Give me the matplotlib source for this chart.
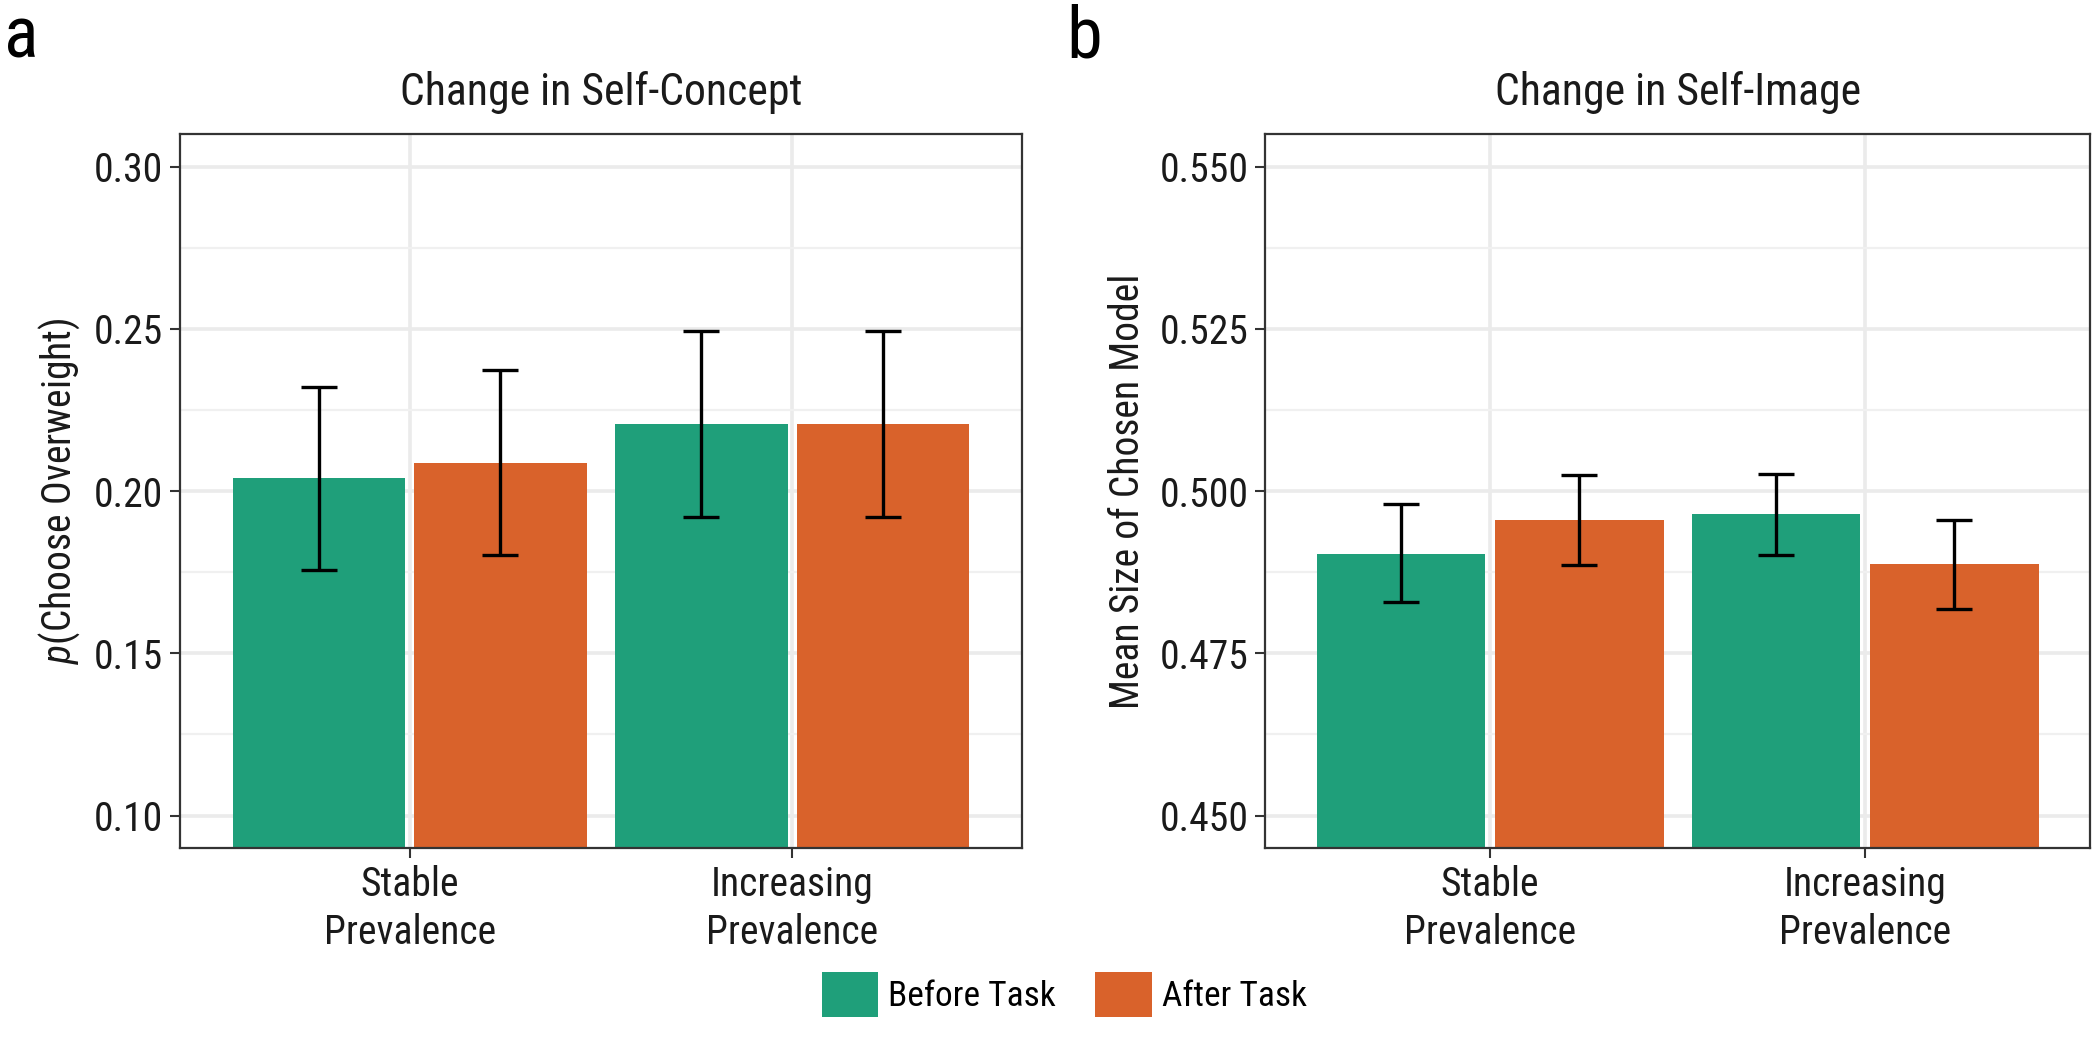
import numpy as np
import matplotlib
matplotlib.use("Agg")
import matplotlib.pyplot as plt
from matplotlib.patches import Patch
from matplotlib import font_manager

# pick a narrow font if one is installed
names = {f.name for f in font_manager.fontManager.ttflist}
FONT = 'DejaVu Sans'
for cand in ['Roboto Condensed', 'Archivo Narrow', 'Fira Sans Condensed', 'Asap Condensed']:
    if cand in names:
        FONT = cand
        break
plt.rcParams['font.family'] = [FONT, 'DejaVu Sans']
plt.rcParams['mathtext.fontset'] = 'custom'
plt.rcParams['mathtext.rm'] = FONT
plt.rcParams['mathtext.it'] = FONT + ':italic'

categories = ['Stable\nPrevalence', 'Increasing\nPrevalence']
groups = ['Before Task', 'After Task']
colors = ['#1f9f7a', '#d9622b']

# panel a: p(choose overweight)
concept_mean = {'Before Task': [0.2039, 0.2206], 'After Task': [0.2087, 0.2206]}
concept_lo = {'Before Task': [0.1757, 0.1921], 'After Task': [0.1804, 0.1921]}
concept_hi = {'Before Task': [0.2321, 0.2492], 'After Task': [0.2372, 0.2492]}

# panel b: mean size of chosen model
image_mean = {'Before Task': [0.4903, 0.4965], 'After Task': [0.4956, 0.4887]}
image_lo = {'Before Task': [0.4829, 0.4902], 'After Task': [0.4886, 0.4819]}
image_hi = {'Before Task': [0.4980, 0.5027], 'After Task': [0.5025, 0.4956]}

TXT = '#1a1a1a'
GRID = '#ebebeb'


def draw_panel(ax, means, los, his, ylim, major, minor, fmt, title, ylabel):
    x = np.arange(len(categories))
    offsets = [-0.2375, 0.2375]
    for g, off, c in zip(groups, offsets, colors):
        m = np.array(means[g])
        lo = np.array(los[g])
        hi = np.array(his[g])
        ax.bar(x + off, m, width=0.45, color=c, zorder=2)
        ax.errorbar(x + off, m, yerr=[m - lo, hi - m], fmt='none', ecolor='black',
                    elinewidth=2.4, capsize=13, capthick=2.4, zorder=3)
    ax.set_xlim(-0.6, len(categories) - 0.4)
    ax.set_ylim(*ylim)
    ax.set_yticks(major)
    ax.set_yticks(minor, minor=True)
    ax.set_yticklabels([fmt.format(v) for v in major])
    ax.set_xticks(x)
    ax.set_xticklabels(categories, linespacing=1.3)
    ax.grid(True, which='major', color=GRID, lw=2.6, zorder=0)
    ax.grid(True, which='minor', axis='y', color='#f0f0f0', lw=1.6, zorder=0)
    ax.set_axisbelow(True)
    ax.tick_params(axis='both', which='major', length=7, width=1.5, color='#333333',
                   labelsize=28.5, labelcolor=TXT, pad=5)
    ax.tick_params(axis='y', which='minor', length=0)
    for s in ax.spines.values():
        s.set_color('#333333')
        s.set_linewidth(1.6)
    ax.set_title(title, fontsize=31.5, color=TXT, pad=21)
    ax.set_ylabel(ylabel, fontsize=28.5, color=TXT, labelpad=9)


fig = plt.figure(figsize=(20.95, 10.4), dpi=100)
ax_a = fig.add_axes([0.0859, 0.1846, 0.4019, 0.6865])
ax_b = fig.add_axes([0.6038, 0.1846, 0.3939, 0.6865])

draw_panel(ax_a, concept_mean, concept_lo, concept_hi, (0.09, 0.31),
           [0.10, 0.15, 0.20, 0.25, 0.30], [0.125, 0.175, 0.225, 0.275], '{:.2f}',
           'Change in Self-Concept', r'$p$(Choose Overweight)')
draw_panel(ax_b, image_mean, image_lo, image_hi, (0.445, 0.555),
           [0.450, 0.475, 0.500, 0.525, 0.550], [0.4625, 0.4875, 0.5125, 0.5375], '{:.3f}',
           'Change in Self-Image', 'Mean Size of Chosen Model')

fig.text(0.002, 0.945, 'a', fontsize=52, color='black', va='baseline')
fig.text(0.509, 0.945, 'b', fontsize=52, color='black', va='baseline')

handles = [Patch(facecolor=c, edgecolor='none', label=g) for g, c in zip(groups, colors)]
fig.legend(handles=handles, loc='lower center', bbox_to_anchor=(0.508, -0.009), ncol=2,
           frameon=False, fontsize=25.5, handlelength=1.6, handleheight=1.6,
           handletextpad=0.28, columnspacing=1.1)

fig.savefig('out.png', dpi=100)
